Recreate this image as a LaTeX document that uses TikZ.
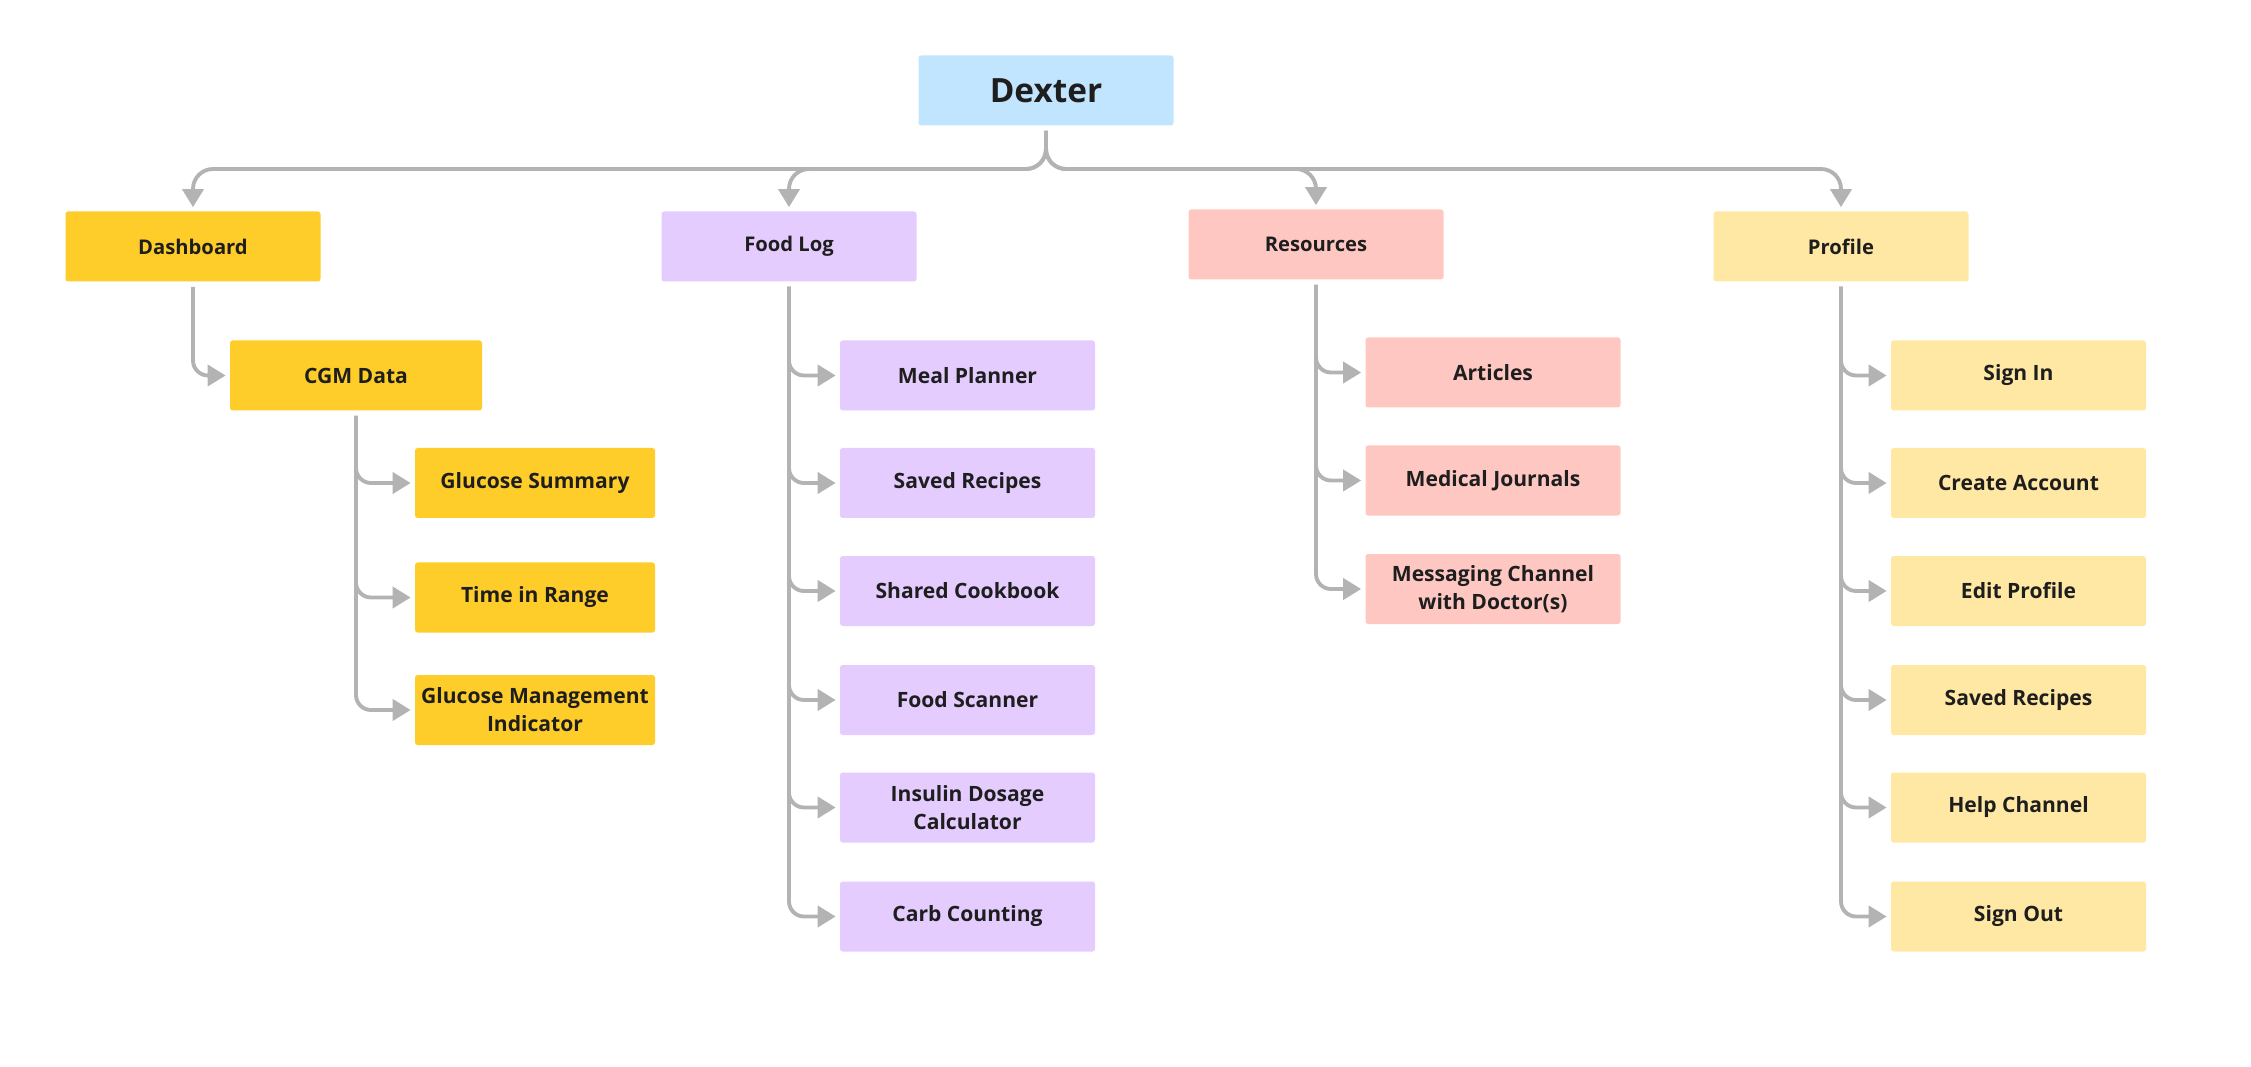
\documentclass[tikz,border=0pt]{standalone}
\usepackage{fontspec}
\setmainfont{Open Sans}
\usepackage{tikz}
\usetikzlibrary{positioning,arrows.meta}

\definecolor{lineg}{HTML}{B3B3B3}
\definecolor{txt}{HTML}{1E1E1E}
\definecolor{blue1}{HTML}{C2E5FF}
\definecolor{gold1}{HTML}{FFCD29}
\definecolor{violet1}{HTML}{E4CCFF}
\definecolor{red1}{HTML}{FFC7C2}
\definecolor{yell1}{HTML}{FFE8A3}

\begin{document}
\begin{tikzpicture}[
        box/.style={rectangle, rounded corners=1.5pt, minimum width=5.1cm, minimum height=1.4cm,
            text=txt, align=center, inner sep=2pt, font=\bfseries\fontsize{12}{16}\selectfont},
        top/.style={box, font=\bfseries\fontsize{11.5}{14}\selectfont},
        link/.style={draw=lineg, line width=2.2pt, rounded corners=0.3cm,
            -{Triangle[length=0.36cm,width=0.42cm]}, shorten <=0.1cm, shorten >=0.08cm},
        on grid]
            \path[fill=white, use as bounding box] (0,0) rectangle (45.02,-21.34);

            \node[box, fill=blue1, font=\bfseries\fontsize{19}{22}\selectfont] (dex) at (20.92,-1.81) {Dexter};
            \node[top, fill=gold1] (dash) at (3.86,-4.93) {Dashboard};
            \node[top, fill=violet1] (food) at (15.78,-4.93) {Food Log};
            \node[top, fill=red1] (res) at (26.32,-4.89) {Resources};
            \node[top, fill=yell1] (prof) at (36.82,-4.93) {Profile};
            \coordinate (bus) at (20.92,-3.38);

            \node[box, fill=gold1, minimum width=5.04cm] (cgm) [below right=2.58cm and 3.26cm of dash] {CGM Data};
            \node[box, fill=gold1, minimum width=4.8cm] (gsum) [below right=2.15cm and 3.58cm of cgm] {Glucose Summary};
            \node[box, fill=gold1, minimum width=4.8cm] (tir) [below=2.29cm of gsum] {Time in Range};
            \node[box, fill=gold1, minimum width=4.8cm] (gmi) [below=2.25cm of tir] {Glucose Management\\Indicator};

            \node[box, fill=violet1] (meal) [below right=2.58cm and 3.57cm of food] {Meal Planner};
            \node[box, fill=violet1] (recf) [below=2.15cm of meal] {Saved Recipes};
            \node[box, fill=violet1] (cook) [below=2.16cm of recf] {Shared Cookbook};
            \node[box, fill=violet1] (scan) [below=2.18cm of cook] {Food Scanner};
            \node[box, fill=violet1] (insu) [below=2.15cm of scan] {Insulin Dosage\\Calculator};
            \node[box, fill=violet1] (carb) [below=2.18cm of insu] {Carb Counting};

            \node[box, fill=red1] (art) [below right=2.56cm and 3.54cm of res] {Articles};
            \node[box, fill=red1] (jour) [below=2.16cm of art] {Medical Journals};
            \node[box, fill=red1] (msg) [below=2.17cm of jour] {Messaging Channel\\with Doctor(s)};

            \node[box, fill=yell1] (sin) [below right=2.58cm and 3.55cm of prof] {Sign In};
            \node[box, fill=yell1] (acc) [below=2.15cm of sin] {Create Account};
            \node[box, fill=yell1] (edit) [below=2.16cm of acc] {Edit Profile};
            \node[box, fill=yell1] (recp) [below=2.18cm of edit] {Saved Recipes};
            \node[box, fill=yell1] (help) [below=2.15cm of recp] {Help Channel};
            \node[box, fill=yell1] (sout) [below=2.18cm of help] {Sign Out};

            \draw[link, rounded corners=0.4cm] (dex.south) -- (bus) -| (dash.north);
            \draw[link, rounded corners=0.4cm] (dex.south) -- (bus) -| (food.north);
            \draw[link, rounded corners=0.4cm] (dex.south) -- (bus) -| (res.north);
            \draw[link, rounded corners=0.4cm] (dex.south) -- (bus) -| (prof.north);

            \draw[link] (dash.south) |- (cgm.west);
            \draw[link] (cgm.south) |- (gsum.west);
            \draw[link] (cgm.south) |- (tir.west);
            \draw[link] (cgm.south) |- (gmi.west);

            \draw[link] (food.south) |- (meal.west);
            \draw[link] (food.south) |- (recf.west);
            \draw[link] (food.south) |- (cook.west);
            \draw[link] (food.south) |- (scan.west);
            \draw[link] (food.south) |- (insu.west);
            \draw[link] (food.south) |- (carb.west);

            \draw[link] (res.south) |- (art.west);
            \draw[link] (res.south) |- (jour.west);
            \draw[link] (res.south) |- (msg.west);

            \draw[link] (prof.south) |- (sin.west);
            \draw[link] (prof.south) |- (acc.west);
            \draw[link] (prof.south) |- (edit.west);
            \draw[link] (prof.south) |- (recp.west);
            \draw[link] (prof.south) |- (help.west);
            \draw[link] (prof.south) |- (sout.west);
        \end{tikzpicture}
\end{document}
